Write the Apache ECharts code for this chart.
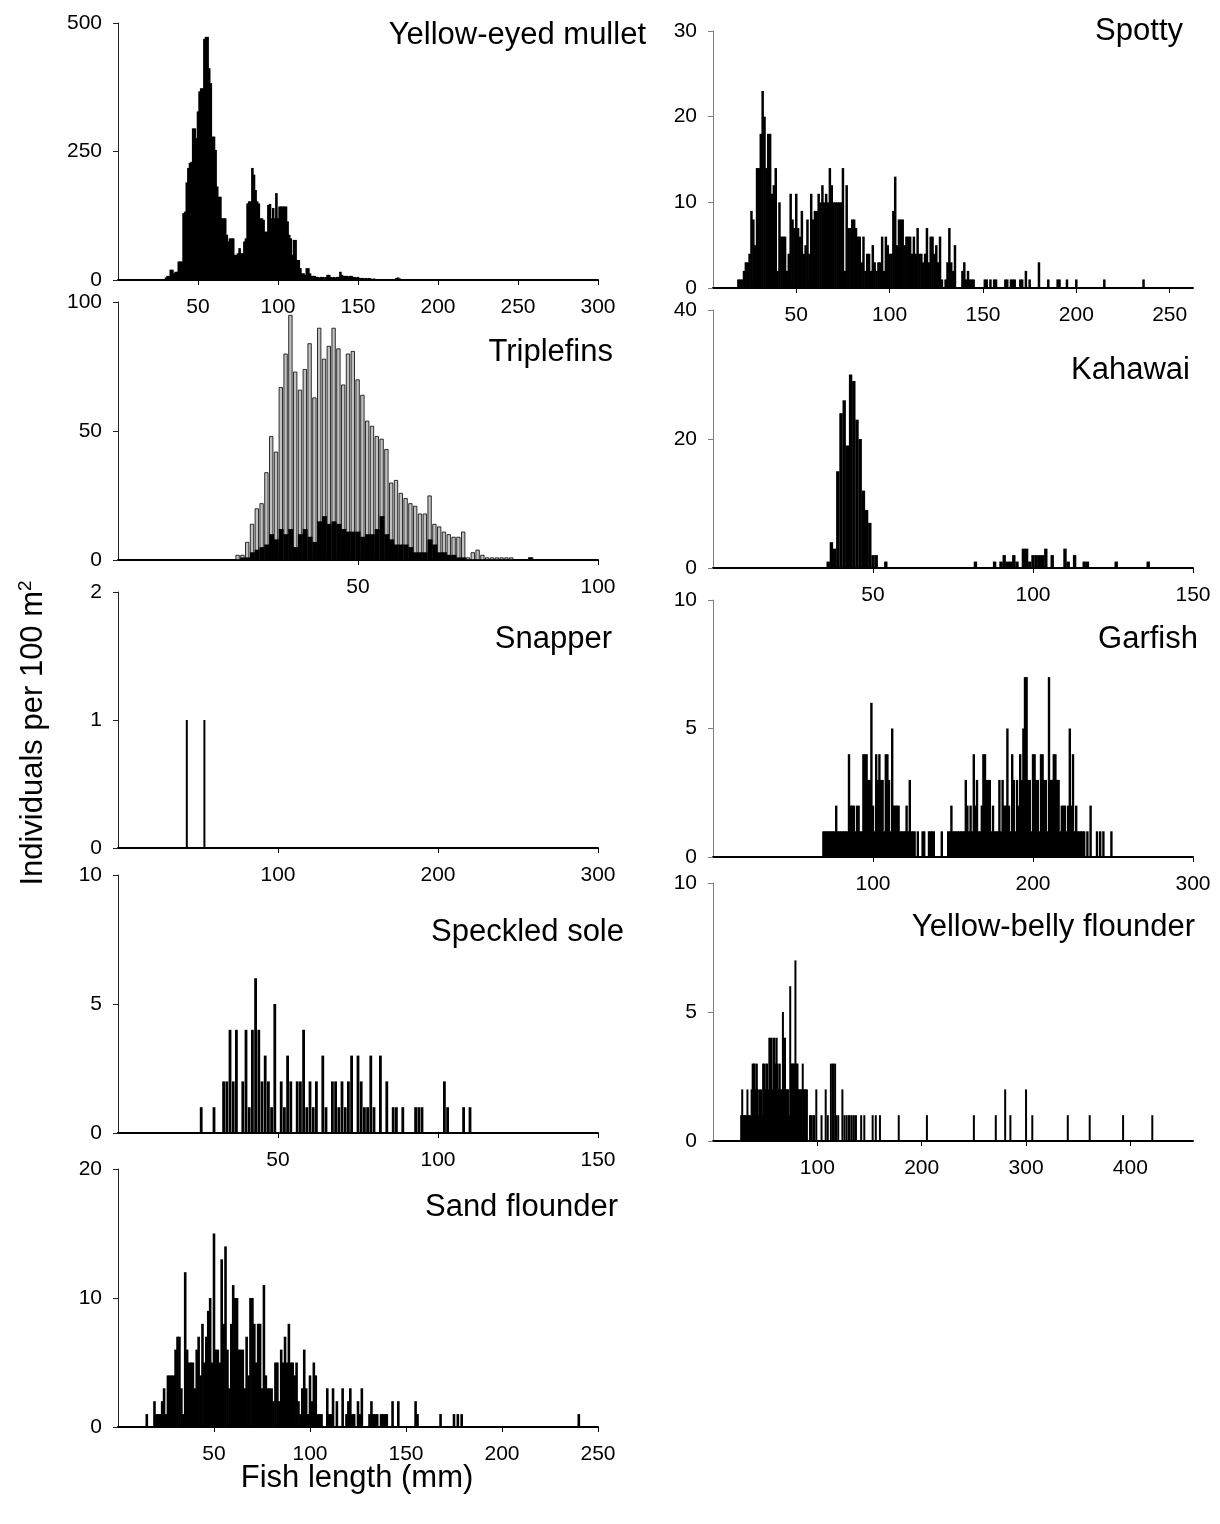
<!DOCTYPE html>
<html><head><meta charset="utf-8">
<script src="https://cdn.jsdelivr.net/npm/echarts@6/dist/echarts.min.js"></script>
<style>html,body{margin:0;padding:0;background:#fff}#c{width:1220px;height:1524px}</style>
</head><body><div id="c"></div>
<script>
const FONT = '"Liberation Sans", Arial, Helvetica, sans-serif';

// ---------------- DATA (length in mm, individuals per 100 m2) ----------------
const mulletLen = [29,30,31,32,33,34,35,36,37,38,39,40,41,42,43,44,45,46,47,48,49,50,51,52,53,54,55,56,57,58,59,60,61,62,63,64,65,66,67,68,69,70,71,72,73,74,75,76,77,78,79,80,81,82,83,84,85,86,87,88,89,90,91,92,93,94,95,96,97,98,99,100,101,102,103,104,105,106,107,108,109,110,111,112,113,114,115,116,117,118,119,120,121,122,123,124,125,126,127,128,129,130,131,132,133,134,135,136,137,138,139,140,141,142,143,144,145,146,147,148,149,150,151,152,153,154,155,156,157,158,159,160,161,162,163,164,165,166,167,168,169,170,171,172,174,175,176,177];
const mulletN = [2,5,8,8,20,20,13,16,16,36,36,36,130,133,190,218,228,230,295,295,276,328,367,373,373,469,473,473,412,383,279,279,253,182,162,162,120,120,120,88,75,81,81,81,49,49,52,62,52,52,75,81,149,153,153,218,205,175,153,149,120,120,117,94,94,146,148,120,140,120,169,120,143,143,143,143,143,114,88,81,49,78,78,39,39,23,13,13,10,23,23,13,8,8,8,6,6,5,6,6,5,6,10,10,6,5,6,5,6,6,16,10,8,8,8,7,8,8,6,6,5,6,4,4,4,3,4,3,4,3,2,3,2,2,1,2,1,1,1,1,1,1,1,1,4,5,3,1];

const tripleLen = [25,26,27,28,29,30,31,32,33,34,35,36,37,38,39,40,41,42,43,44,45,46,47,48,49,50,51,52,53,54,55,56,57,58,59,60,61,62,63,64,65,66,67,68,69,70,71,72,73,74,75,76,77,78,79,80,81,82,86];
const tripleAll = [2,2,7,14,20,22,34,48,42,67,80,95,73,66,74,84,63,90,78,83,90,82,68,80,81,70,64,54,52,48,47,43,30,31,26,24,22,21,18,18,25,14,13,11,10,9,9,11,1,3,4,2,1,1,1,1,1,1,1];
const tripleBlack = [0,1,1,3,4,5,6,10,8,12,10,12,5,10,12,9,7,15,17,14,15,14,12,11,11,11,9,10,10,12,17,10,8,6,6,6,5,3,3,3,8,6,3,3,2,2,1,1,0,0,0,0,0,0,0,0,0,0,1];

const snapperLen = [43,54];
const snapperN = [1,1];

const soleLen = [26,30,33,34,35,36,37,39,40,41,42,43,44,45,46,47,48,49,51,52,53,54,56,57,58,59,60,61,62,64,65,67,68,69,70,71,72,73,75,76,77,78,79,80,82,84,86,87,89,93,94,95,102,103,108,110];
const soleN = [1,1,2,2,4,2,4,2,4,1,4,6,4,2,3,2,1,5,2,1,3,2,2,2,4,1,2,1,2,3,1,2,2,1,2,1,2,3,3,2,1,1,3,1,3,2,1,1,1,1,1,1,2,1,1,1];

const sandLen = [15,19,20,21,22,23,24,25,26,27,28,29,30,31,32,33,34,35,36,37,38,39,40,41,42,43,44,45,46,47,48,49,50,51,52,53,54,55,56,57,58,59,60,61,62,63,64,65,66,67,68,69,70,71,72,73,74,75,76,77,78,79,80,81,82,83,84,85,86,87,88,89,90,91,92,93,94,95,96,97,98,99,100,101,102,103,104,105,106,109,110,111,112,114,117,119,120,121,122,123,125,126,127,131,132,133,134,135,137,138,139,140,143,146,155,156,168,175,177,179,240];
const sandN = [1,2,1,1,1,2,3,1,4,4,4,4,6,7,7,3,1,12,6,5,5,5,3,6,7,4,8,5,7,9,10,5,15,6,6,5,13,8,14,6,3,8,11,10,10,6,6,6,3,7,4,10,10,8,5,8,8,3,11,4,3,3,3,2,5,5,2,6,5,7,5,8,5,5,4,5,2,1,3,6,3,1,4,2,5,4,1,1,1,3,1,1,3,2,3,1,2,3,1,1,2,1,3,1,2,1,1,1,1,1,1,1,2,2,2,1,1,1,1,1,1];

const spottyLen = [19,20,21,22,23,24,25,26,27,28,29,30,31,32,33,34,35,36,37,38,39,40,41,42,43,44,45,46,47,48,49,50,51,52,53,54,55,56,57,58,59,60,61,62,63,64,65,66,67,68,69,70,71,72,73,74,75,76,77,78,79,80,81,82,83,84,85,86,87,88,89,90,91,92,93,94,95,96,97,98,99,100,101,102,103,104,105,106,107,108,109,110,111,112,113,114,115,116,117,118,119,120,121,122,123,124,125,126,127,128,130,131,132,133,134,135,139,140,141,142,143,144,145,151,152,154,156,157,162,163,165,166,167,170,171,173,175,180,185,190,191,195,200,215,236];
const spottyN = [1,1,1,2,3,3,4,9,8,5,14,14,18,23,20,14,18,18,11,12,14,2,10,6,6,6,2,4,11,8,7,11,7,6,9,4,5,8,4,11,8,9,9,11,10,12,10,11,10,14,12,10,10,10,10,10,14,2,12,7,7,8,8,7,6,6,3,6,2,4,4,2,5,3,2,3,3,6,2,6,5,4,4,9,13,5,8,8,8,5,6,6,6,4,6,4,7,4,4,3,4,7,3,6,6,4,5,3,6,1,1,3,7,3,2,5,2,3,1,2,1,1,1,1,1,1,1,1,1,1,1,1,1,1,1,2,1,3,1,1,1,1,1,1,1];

const kahawaiLen = [36,37,38,39,40,41,42,43,44,45,46,47,48,49,50,51,54,82,88,90,91,92,93,94,95,97,98,99,100,101,102,103,104,106,110,111,113,116,117,126,136];
const kahawaiN = [1,4,3,15,24,26,19,30,29,23,20,12,9,7,2,2,1,1,1,1,2,1,1,2,1,3,3,1,2,2,2,2,3,2,3,1,2,1,1,1,1];

const garLen = [69,70,71,72,73,74,75,76,77,78,79,80,81,82,83,84,85,86,87,88,89,90,91,92,93,94,95,96,97,98,99,100,101,102,103,104,105,106,107,108,109,110,111,112,113,114,115,116,117,118,119,120,121,122,123,124,125,126,128,131,132,135,136,137,138,143,147,148,149,150,151,152,153,154,155,156,157,158,159,160,161,162,163,164,165,166,167,168,169,170,171,172,173,174,175,176,177,178,179,180,181,182,183,184,185,186,187,188,189,190,191,192,193,194,195,196,197,198,199,200,201,202,203,204,205,206,207,208,209,210,211,212,213,214,215,216,217,218,219,220,221,222,223,224,225,226,227,228,229,230,231,232,234,236,240,242,244,249];
const garN = [1,1,1,1,1,1,1,1,2,1,1,1,1,1,1,1,4,2,2,2,1,2,2,1,1,4,4,4,3,3,6,2,1,4,3,4,3,3,1,4,4,3,1,5,2,2,2,2,1,1,1,1,2,1,3,1,1,1,1,1,1,1,1,1,1,1,1,1,2,1,1,1,1,1,1,1,1,3,2,1,2,1,4,2,3,1,1,2,4,4,3,3,3,1,2,1,1,1,3,1,3,2,2,5,2,1,4,3,1,3,2,4,3,5,7,7,3,3,1,4,4,3,3,1,4,4,3,3,1,7,3,3,4,4,3,3,1,2,2,2,1,2,5,2,4,1,2,1,1,1,1,1,1,2,1,1,1,1];

const ybLen = [27,28,29,30,31,32,33,34,35,36,37,38,39,40,41,42,43,44,45,46,47,48,49,50,51,52,53,54,55,56,57,58,59,60,61,62,63,64,65,66,67,68,69,70,71,72,73,74,75,76,77,78,79,80,81,82,83,84,85,86,87,88,89,90,93,94,96,97,99,104,108,110,113,115,117,118,120,124,126,128,130,131,133,135,137,142,145,153,156,160,178,205,250,271,280,285,300,306,340,361,393,421];
const ybN = [1,2,1,1,1,1,2,1,1,1,2,3,3,3,2,3,2,1,2,2,1,3,3,2,3,3,2,4,4,4,2,4,4,3,4,3,2,3,2,2,5,4,4,2,2,2,1,6,3,3,3,3,7,3,3,2,2,2,2,3,2,2,2,2,1,1,1,1,2,1,2,1,3,3,3,1,1,2,1,1,1,1,1,1,1,1,1,1,1,1,1,1,1,1,2,1,2,1,1,1,1,1];

// tick labels on the length axes
const ticksMullet = [50,100,150,200,250,300];
const ticksTriple = [50,100];
const ticksSnapper = [100,200,300];
const ticksSole = [50,100,150];
const ticksSand = [50,100,150,200,250];
const ticksSpotty = [50,100,150,200,250];
const ticksKahawai = [50,100,150];
const ticksGarfish = [100,200,300];
const ticksYb = [100,200,300,400];

// ---------------- LAYOUT ----------------
const panels = [
  {name:'Yellow-eyed mullet', len:mulletLen, n:mulletN, g:[118,23,480,257], xMin:0, xMax:300, ticks:ticksMullet, yMax:500, yInt:250, bw:2.6, yc:'#222', tx:646, ty:35},
  {name:'Triplefins', len:tripleLen, n:tripleAll, black:tripleBlack, g:[118,302,480,258], xMin:0, xMax:100, ticks:ticksTriple, yMax:100, yInt:50, bw:4.2, yc:'#222', tx:613, ty:352},
  {name:'Snapper', len:snapperLen, n:snapperN, g:[118,592,480,256], xMin:0, xMax:300, ticks:ticksSnapper, yMax:2, yInt:1, bw:2, yc:'#222', tx:612, ty:639},
  {name:'Speckled sole', len:soleLen, n:soleN, g:[118,875,480,258], xMin:0, xMax:150, ticks:ticksSole, yMax:10, yInt:5, bw:2.8, yc:'#222', tx:624, ty:932},
  {name:'Sand flounder', len:sandLen, n:sandN, g:[118,1169,480,258], xMin:0, xMax:250, ticks:ticksSand, yMax:20, yInt:10, bw:2.6, yc:'#222', tx:618, ty:1207},
  {name:'Spotty', len:spottyLen, n:spottyN, g:[713,31,480,257], xMin:5.4, xMax:262.5, ticks:ticksSpotty, yMax:30, yInt:10, bw:2.5, yc:'#808080', tx:1183, ty:31},
  {name:'Kahawai', len:kahawaiLen, n:kahawaiN, g:[713,310,480,258], xMin:0, xMax:150, ticks:ticksKahawai, yMax:40, yInt:20, bw:3.4, yc:'#808080', tx:1190, ty:370},
  {name:'Garfish', len:garLen, n:garN, g:[713,600,480,257], xMin:0, xMax:300, ticks:ticksGarfish, yMax:10, yInt:5, bw:2.4, yc:'#808080', tx:1198, ty:639},
  {name:'Yellow-belly flounder', len:ybLen, n:ybN, g:[713,883,480,258], xMin:0, xMax:460, ticks:ticksYb, yMax:10, yInt:5, bw:2, yc:'#808080', tx:1195, ty:927}
];

const grid = [], xAxis = [], yAxis = [], series = [], graphic = [];
panels.forEach((p, i) => {
  grid.push({left:p.g[0], top:p.g[1], width:p.g[2], height:p.g[3], containLabel:false});
  xAxis.push({
    gridIndex:i, type:'value', min:p.xMin, max:p.xMax,
    axisLine:{show:true, onZero:false, lineStyle:{color:'#000', width:2}},
    axisTick:{show:true, length:5, customValues:p.ticks, lineStyle:{color:'#000', width:1}},
    axisLabel:{show:true, customValues:p.ticks, margin:17, fontSize:21, fontFamily:FONT, color:'#000'},
    splitLine:{show:false}
  });
  yAxis.push({
    gridIndex:i, type:'value', min:0, max:p.yMax, interval:p.yInt,
    axisLine:{show:true, lineStyle:{color:p.yc, width:1}},
    axisTick:{show:true, length:5, lineStyle:{color:p.yc, width:1}},
    axisLabel:{margin:16, fontSize:21, fontFamily:FONT, color:'#000'},
    splitLine:{show:false}
  });
  if (p.black) {
    series.push({type:'bar', xAxisIndex:i, yAxisIndex:i, barWidth:p.bw, barGap:'-100%',
      data:p.len.map((l,k)=>[l,p.n[k]]),
      itemStyle:{color:'#c0c0c0', borderColor:'#000', borderWidth:0.8}, silent:true});
    series.push({type:'bar', xAxisIndex:i, yAxisIndex:i, barWidth:p.bw + 0.8, barGap:'-100%',
      data:p.len.map((l,k)=>[l,p.black[k]]),
      itemStyle:{color:'#000'}, silent:true});
  } else {
    series.push({type:'bar', xAxisIndex:i, yAxisIndex:i, barWidth:p.bw,
      data:p.len.map((l,k)=>[l,p.n[k]]),
      itemStyle:{color:'#000'}, silent:true});
  }
  graphic.push({type:'text', x:p.tx, y:p.ty, silent:true,
    style:{text:p.name, fontSize:31, fontFamily:FONT, fill:'#000', align:'right', verticalAlign:'middle'}});
});

graphic.push({type:'text', x:33, y:733, rotation:Math.PI/2, silent:true,
  style:{text:'{a|Individuals per 100 m}{s|2}', align:'center', verticalAlign:'middle', fill:'#000',
    rich:{a:{fontSize:31, fontFamily:FONT, fill:'#000', lineHeight:34},
          s:{fontSize:19, fontFamily:FONT, fill:'#000', verticalAlign:'top', lineHeight:19}}}});
graphic.push({type:'text', x:357, y:1478, silent:true,
  style:{text:'Fish length (mm)', fontSize:31, fontFamily:FONT, fill:'#000', align:'center', verticalAlign:'middle'}});

const chart = echarts.init(document.getElementById('c'), null, {renderer:'canvas'});
chart.setOption({animation:false, backgroundColor:'#fff', grid, xAxis, yAxis, series, graphic});
</script>
</body></html>
